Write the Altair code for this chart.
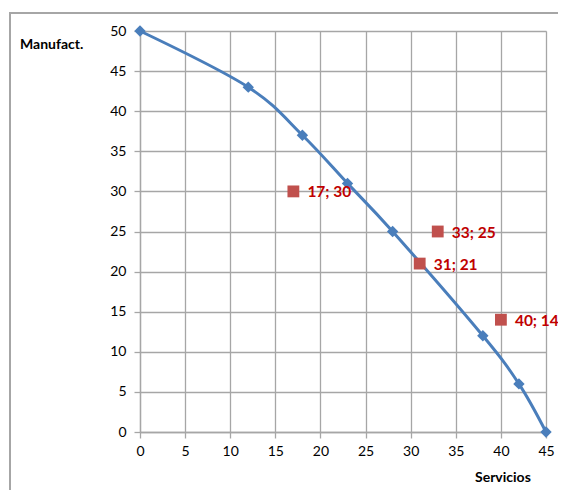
import altair as alt
import pandas as pd

# Frontier (production possibilities curve)
curve_x = [0, 12, 18, 23, 28, 38, 42, 45]
curve_y = [50, 43, 37, 31, 25, 12, 6, 0]

# Extra points
pts_x = [17, 33, 31, 40]
pts_y = [30, 25, 21, 14]
pts_label = ["17; 30", "33; 25", "31; 21", "40; 14"]

x_ticks = list(range(0, 46, 5))
y_ticks = list(range(0, 51, 5))

curve = pd.DataFrame({"x": curve_x, "y": curve_y})
pts = pd.DataFrame({"x": pts_x, "y": pts_y, "label": pts_label})

FONT = "Lato"

xs = alt.Scale(domain=[0, 45], nice=False, zero=False)
ys = alt.Scale(domain=[0, 50], nice=False, zero=False)

x_axis = alt.Axis(values=x_ticks, title=None, grid=True, gridColor="#A6A6A6", gridWidth=1.3,
                  domainColor="#A6A6A6", domainWidth=1.3, tickColor="#A6A6A6", tickSize=6,
                  tickWidth=1.3, labelFont=FONT, labelFontSize=14, labelColor="#000000",
                  labelPadding=6, labelFlush=False)
y_axis = alt.Axis(values=y_ticks, title=None, grid=True, gridColor="#A6A6A6", gridWidth=1.3,
                  domainColor="#A6A6A6", domainWidth=1.3, tickColor="#A6A6A6", tickSize=6,
                  tickWidth=1.3, labelFont=FONT, labelFontSize=14, labelColor="#000000",
                  labelPadding=8, labelFlush=False)

base = alt.Chart(curve)

line = base.mark_line(interpolate="cardinal", color="#4A7EBB", strokeWidth=3).encode(
    x=alt.X("x:Q", scale=xs, axis=x_axis),
    y=alt.Y("y:Q", scale=ys, axis=y_axis),
)
diamonds = base.mark_point(shape="diamond", filled=True, color="#4A7EBB", size=130, opacity=1).encode(
    x=alt.X("x:Q", scale=xs), y=alt.Y("y:Q", scale=ys)
)

squares = alt.Chart(pts).mark_square(color="#C0504D", size=140, opacity=1).encode(
    x=alt.X("x:Q", scale=xs), y=alt.Y("y:Q", scale=ys)
)
labels = alt.Chart(pts).mark_text(align="left", baseline="middle", dx=14, dy=1, font=FONT,
                                  fontSize=15.5, fontWeight="bold", color="#C00000").encode(
    x=alt.X("x:Q", scale=xs), y=alt.Y("y:Q", scale=ys), text="label:N"
)

frame_df = pd.DataFrame({"k": [0]})
frame = alt.Chart(frame_df).mark_rect(fill=None, stroke="#A6A6A6", strokeWidth=2).encode(
    x=alt.value(-130), x2=alt.value(440), y=alt.value(-18), y2=alt.value(490)
)

ytitle = alt.Chart(frame_df).mark_text(text="Manufact.", align="left", baseline="middle",
                                       font=FONT, fontSize=14, fontWeight="bold", color="#000000").encode(
    x=alt.value(-120), y=alt.value(14)
)
xtitle = alt.Chart(frame_df).mark_text(text="Servicios", align="left", baseline="middle",
                                       font=FONT, fontSize=14, fontWeight="bold", color="#000000").encode(
    x=alt.value(335), y=alt.value(447)
)

chart = alt.layer(frame, line, diamonds, squares, labels, ytitle, xtitle).properties(
    width=406, height=401,
    autosize=alt.AutoSizeParams(type="none"),
    padding={"left": 132, "top": 23, "right": 12, "bottom": 58},
).configure_view(stroke=None).configure(background="white")

chart.save("out.html", embed_options={"renderer": "svg", "actions": False})
